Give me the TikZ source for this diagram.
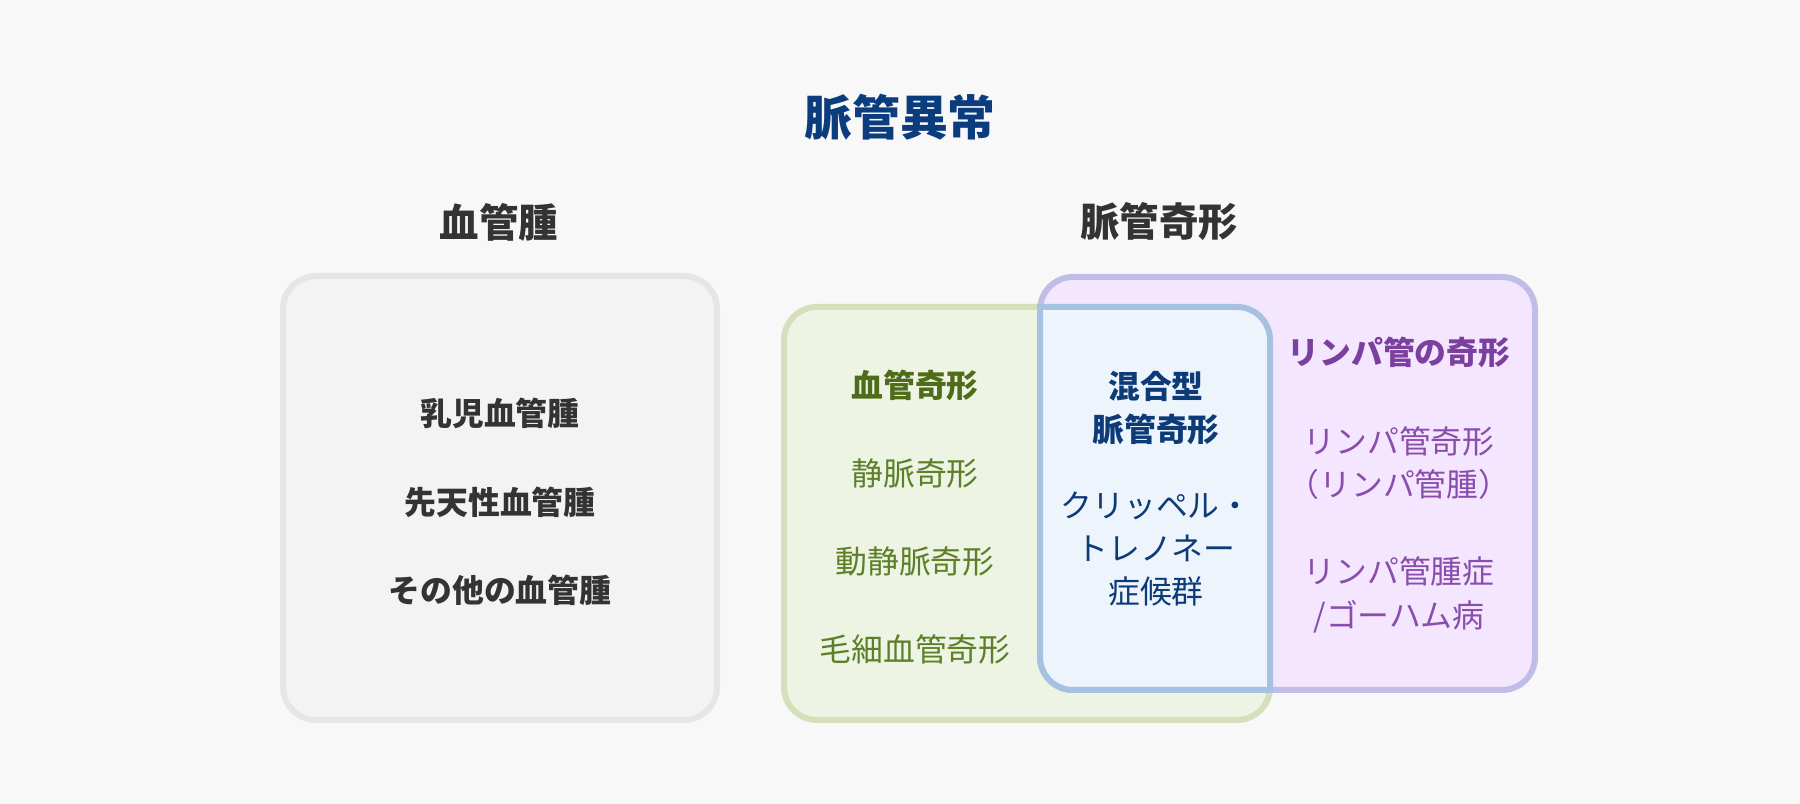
\documentclass[tikz,border=0pt]{standalone}
\usepackage{fontspec}
\usepackage{tikz}
\newfontfamily\jp{Noto Sans CJK JP}

\definecolor{bgcol}{HTML}{F8F8F8}
\definecolor{titlecol}{HTML}{0B3D7E}
\definecolor{darktext}{HTML}{333333}
\definecolor{graydraw}{HTML}{E6E6E6}
\definecolor{grayfill}{HTML}{F3F3F3}
\definecolor{greendraw}{HTML}{D3E0BB}
\definecolor{greenfill}{HTML}{EEF4E3}
\definecolor{greentext}{HTML}{4F6C1A}
\definecolor{greenitem}{HTML}{5C7F28}
\definecolor{purpledraw}{HTML}{C0BDE6}
\definecolor{purplefill}{HTML}{F3E6FE}
\definecolor{purpletext}{HTML}{7B3F9E}
\definecolor{purpleitem}{HTML}{8A4DAD}
\definecolor{bluedraw}{HTML}{A6C2E0}
\definecolor{bluefill}{HTML}{EDF4FC}
\definecolor{bluetext}{HTML}{0D3B78}

\tikzset{
  box/.style={line width=0.06cm, rounded corners=0.33cm},
  maintitle/.style={font=\jp\bfseries\fontsize{13.6}{16}\selectfont, text=titlecol},
  grouptitle/.style={font=\jp\bfseries\fontsize{11.2}{14}\selectfont, text=darktext},
  item/.style={font=\jp\fontsize{9.05}{12.3}\selectfont, align=center},
  bolditem/.style={item, font=\jp\bfseries\fontsize{9.05}{12.3}\selectfont}
}

\begin{document}
\begin{tikzpicture}[x=0.01cm, y=-0.01cm]
            % Background
            \fill[bgcol] (0,0) rectangle (1800,804);
            \useasboundingbox (0,0) rectangle (1800,804);

            % Define boxes
            \draw[box, draw=graydraw, fill=grayfill] (283,276) rectangle (717,720);
            \draw[box, draw=greendraw, fill=greenfill] (784,307) rectangle (1270,720);
            \draw[box, draw=purpledraw, fill=purplefill] (1040,277) rectangle (1535,690);
            \draw[line width=0.06cm, draw=bluedraw, fill=bluefill] (1040,307) -- (1237,307)
              arc[start angle=-90, end angle=0, radius=33] -- (1270,690) -- (1073,690)
              arc[start angle=90, end angle=180, radius=33] -- cycle;

            % Titles
            \node[maintitle] (title) at (900,117) {脈管異常};
            \node[grouptitle] (tumor) at (499,222) {血管腫};
            \node[grouptitle] (malf) at (1159,222) {脈管奇形};

            % Vascular tumours
            \node[bolditem, text=darktext] (infant) at (500,413) {乳児血管腫};
            \node[bolditem, text=darktext] (congen) at (500,502) {先天性血管腫};
            \node[bolditem, text=darktext] (other) at (500,590) {その他の血管腫};

            % Vascular malformations
            \node[bolditem, text=greentext] (vasc) at (915,385) {血管奇形};
            \node[item, text=greenitem] (venous) at (915,473) {静脈奇形};
            \node[item, text=greenitem] (av) at (915,561) {動静脈奇形};
            \node[item, text=greenitem] (capil) at (915,649) {毛細血管奇形};

            % Mixed
            \node[bolditem, text=bluetext] (mixed) at (1156,408) {混合型\\脈管奇形};
            \node[item, text=bluetext] (kt) at (1156,549) {クリッペル・\\トレノネー\\症候群};

            % Lymphatic malformations
            \node[bolditem, text=purpletext] (lymph) at (1399,352) {リンパ管の奇形};
            \node[item, text=purpleitem] (lm) at (1399,463) {リンパ管奇形\\（リンパ管腫）};
            \node[item, text=purpleitem] (gorham) at (1399,595) {リンパ管腫症\\/ゴーハム病};
\end{tikzpicture}
\end{document}
